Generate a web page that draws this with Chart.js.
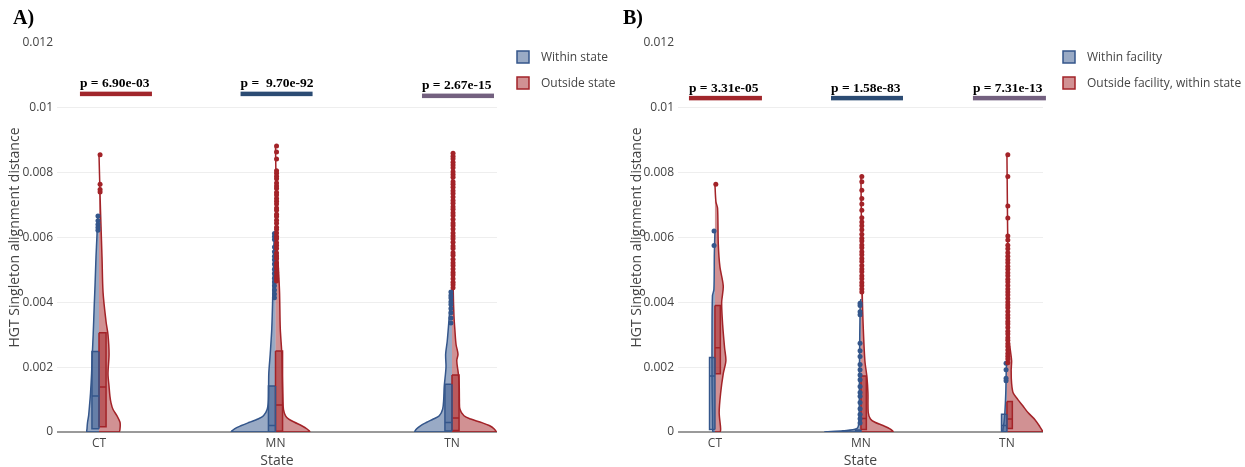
<!DOCTYPE html>
<html>
<head>
<meta charset="utf-8">
<script src="https://cdn.jsdelivr.net/npm/chart.js@4.4.1/dist/chart.umd.min.js"></script>
<style>
  body { margin: 0; background: #fff; width: 1245px; height: 467px; position: relative; overflow: hidden; }
  .panel { position: absolute; top: 0; height: 467px; }
  .tag { position: absolute; top: 7px; font: bold 20px "Liberation Serif", serif; line-height: 20px; color: #000; }
</style>
</head>
<body>
<div class="panel" style="left:0;width:622px"><canvas id="chartA"></canvas></div>
<div class="panel" style="left:622px;width:623px"><canvas id="chartB"></canvas></div>
<div class="tag" style="left:13px">A)</div>
<div class="tag" style="left:623px">B)</div>
<script>
const categories = ['CT', 'MN', 'TN'];
const yTicks = [0, 0.002, 0.004, 0.006, 0.008, 0.01, 0.012];

// ---- Panel A: within state (left half) / outside state (right half)
// violin outlines: distance levels and half widths (category units)
const aCtWithinY = [0, 0.0001, 0.0003, 0.0005, 0.0008, 0.0012, 0.0018, 0.0024, 0.003, 0.0039, 0.0046, 0.0054, 0.006, 0.0066, 0.0067];
const aCtWithinW = [0.068, 0.068, 0.065, 0.059, 0.054, 0.048, 0.042, 0.038, 0.033, 0.027, 0.022, 0.017, 0.012, 0.007, 0];
const aCtOutsideY = [0, 0.0001, 0.0003, 0.0005, 0.0007, 0.0009, 0.0011, 0.0014, 0.0018, 0.0024, 0.003, 0.0034, 0.0043, 0.0054, 0.0064, 0.0073, 0.00855];
const aCtOutsideW = [0.113, 0.119, 0.119, 0.102, 0.079, 0.068, 0.062, 0.057, 0.051, 0.057, 0.051, 0.040, 0.023, 0.017, 0.011, 0.006, 0];
const aMnWithinY = [0, 0.0001, 0.0002, 0.0003, 0.0004, 0.0005, 0.0007, 0.001, 0.0018, 0.0024, 0.0032, 0.0043, 0.0052, 0.0059, 0.0062];
const aMnWithinW = [0.249, 0.232, 0.193, 0.147, 0.1, 0.068, 0.047, 0.04, 0.038, 0.03, 0.021, 0.015, 0.011, 0.008, 0];
const aMnOutsideY = [0, 0.0001, 0.0002, 0.0003, 0.0004, 0.0005, 0.0007, 0.001, 0.0018, 0.0024, 0.0032, 0.0043, 0.005, 0.0059, 0.007, 0.0088];
const aMnOutsideW = [0.193, 0.177, 0.146, 0.108, 0.075, 0.057, 0.045, 0.042, 0.038, 0.036, 0.027, 0.023, 0.017, 0.007, 0.005, 0];
const aTnWithinY = [0, 0.0001, 0.0002, 0.0003, 0.0004, 0.0005, 0.0007, 0.001, 0.0014, 0.002, 0.0024, 0.0028, 0.0036, 0.0042, 0.0044];
const aTnWithinW = [0.21, 0.2, 0.177, 0.143, 0.106, 0.072, 0.053, 0.047, 0.044, 0.034, 0.036, 0.027, 0.015, 0.007, 0];
const aTnOutsideY = [0, 0.0001, 0.0002, 0.0003, 0.0004, 0.0005, 0.0007, 0.001, 0.0014, 0.0018, 0.0022, 0.0024, 0.0027, 0.0031, 0.0036, 0.0044, 0.0086];
const aTnOutsideW = [0.249, 0.238, 0.211, 0.163, 0.106, 0.068, 0.045, 0.042, 0.041, 0.036, 0.027, 0.034, 0.023, 0.017, 0.011, 0.007, 0];
// boxes: [q1, median, q3] per state
const aWithinBoxes = [[0.0001, 0.00111, 0.00248], [0.00001, 0.0002, 0.00142], [0.00003, 0.00029, 0.00147]];
const aOutsideBoxes = [[0.00016, 0.00139, 0.00306], [0.00002, 0.00083, 0.0025], [0.00005, 0.00043, 0.00176]];
// outliers
const aCtWithinPts = [0.00666, 0.00652, 0.0064, 0.00631, 0.00622];
const aCtOutsidePts = [0.00855, 0.00764, 0.00748, 0.0074];
const aMnWithinPts = [0.00612, 0.00603, 0.00594, 0.00571, 0.00556, 0.00542, 0.00531, 0.00518, 0.00502, 0.00489, 0.00474, 0.00463, 0.00451, 0.00438, 0.00426, 0.00414];
const aMnOutsidePts = [0.00882, 0.00864, 0.00842, 0.00806, 0.00798, 0.00789, 0.00781, 0.00768, 0.00759, 0.00751, 0.00739, 0.00731, 0.0072, 0.00712, 0.00703, 0.00691, 0.00684, 0.00672, 0.00665, 0.00653, 0.00644, 0.00632, 0.00625, 0.00614, 0.00603, 0.00596, 0.00584, 0.00575, 0.00566, 0.00552, 0.00543, 0.00535, 0.00521, 0.00512, 0.00504, 0.00493, 0.00482, 0.00474, 0.00466];
const aTnWithinPts = [0.00432, 0.00421, 0.00413, 0.00402, 0.00393, 0.00381, 0.00368, 0.00352, 0.00336];
const aTnOutsidePts = [0.0086, 0.00851, 0.00843, 0.00832, 0.00824, 0.00815, 0.00803, 0.00794, 0.00786, 0.00772, 0.00764, 0.00755, 0.00744, 0.00736, 0.00725, 0.00714, 0.00706, 0.00695, 0.00687, 0.00676, 0.00668, 0.00656, 0.00645, 0.00637, 0.00626, 0.00614, 0.00605, 0.00596, 0.00585, 0.00574, 0.00566, 0.00553, 0.00545, 0.00533, 0.00522, 0.00514, 0.00503, 0.00492, 0.00484, 0.00473, 0.00462, 0.00454, 0.00445];
const aPLabels = ['p = 6.90e-03', 'p =  9.70e-92', 'p = 2.67e-15'];

// ---- Panel B: within facility / outside facility, within state
const bCtWithinY = [0, 0.0005, 0.0015, 0.003, 0.0042, 0.0044, 0.0055, 0.0062];
const bCtWithinW = [0.014, 0.017, 0.02, 0.02, 0.017, 0.007, 0.004, 0];
const bCtOutsideY = [0, 0.0001, 0.0006, 0.0012, 0.0018, 0.0022, 0.0026, 0.0033, 0.004, 0.0045, 0.0051, 0.0058, 0.0069, 0.0071, 0.00764];
const bCtOutsideW = [0.034, 0.039, 0.029, 0.039, 0.057, 0.075, 0.066, 0.053, 0.046, 0.057, 0.034, 0.023, 0.018, 0.007, 0];
const bMnWithinY = [0, 0.00004, 0.0001, 0.0003, 0.002, 0.004, 0.0041];
const bMnWithinW = [0.247, 0.123, 0.03, 0.014, 0.01, 0.005, 0];
const bMnOutsideY = [0, 0.0001, 0.0002, 0.0003, 0.0004, 0.0006, 0.0012, 0.0017, 0.0022, 0.0032, 0.0043, 0.0079];
const bMnOutsideW = [0.219, 0.199, 0.151, 0.096, 0.065, 0.05, 0.048, 0.041, 0.027, 0.016, 0.009, 0];
const bTnWithinY = [0, 0.0003, 0.0006, 0.0012, 0.002, 0.0022];
const bTnWithinW = [0.027, 0.02, 0.014, 0.008, 0.004, 0];
const bTnOutsideY = [0, 0.00016, 0.00038, 0.0006, 0.0008, 0.001, 0.0012, 0.0015, 0.0019, 0.0022, 0.0025, 0.0028, 0.004, 0.00855];
const bTnOutsideW = [0.247, 0.226, 0.192, 0.144, 0.11, 0.075, 0.043, 0.032, 0.029, 0.032, 0.024, 0.016, 0.01, 0];
const bWithinBoxes = [[0.00008, 0.00173, 0.0023], [0, 0.00002, 0.00006], [0.00001, 0.0002, 0.00055]];
const bOutsideBoxes = [[0.0018, 0.0026, 0.0039], [0.00008, 0.00042, 0.00173], [0.00011, 0.0004, 0.00094]];
const bCtWithinPts = [0.0062, 0.00575];
const bCtOutsidePts = [0.00764];
const bMnWithinPts = [0.00397, 0.0039, 0.00371, 0.00362, 0.00274, 0.00251, 0.00233, 0.00208, 0.00192, 0.00176, 0.00161, 0.0014, 0.00122, 0.0011, 0.00091, 0.00072, 0.00054, 0.00041, 0.00028];
const bMnOutsidePts = [0.00788, 0.00772, 0.00746, 0.0072, 0.00703, 0.00684, 0.00661, 0.00648, 0.00636, 0.00624, 0.0061, 0.00598, 0.00589, 0.00577, 0.00568, 0.00556, 0.00547, 0.00535, 0.00526, 0.00514, 0.00503, 0.00494, 0.00482, 0.00473, 0.00461, 0.00452, 0.00441, 0.00432];
const bTnWithinPts = [0.00212, 0.00192, 0.00166, 0.00158];
const bTnOutsidePts = [0.00855, 0.00788, 0.00697, 0.0066, 0.00605, 0.00592, 0.00576, 0.00565, 0.00553, 0.00542, 0.00531, 0.00522, 0.00511, 0.00502, 0.00491, 0.00482, 0.00471, 0.00463, 0.00452, 0.00441, 0.00432, 0.00423, 0.00412, 0.00401, 0.00392, 0.00383, 0.00372, 0.00361, 0.00352, 0.00341, 0.00333, 0.00322, 0.00311, 0.00302, 0.00291, 0.00283, 0.00272, 0.00264, 0.00253, 0.00242, 0.00234, 0.00225, 0.00214];
const bPLabels = ['p = 3.31e-05', 'p = 1.58e-83', 'p = 7.31e-13'];

const blue = 'rgb(52,86,139)', blueFill = 'rgba(52,86,139,0.5)';
const red = 'rgb(163,35,40)', redFill = 'rgba(163,35,40,0.5)';
const barColors = ['#a1262b', '#2b4b73', '#73607f'];

Chart.defaults.font.family = '"Open Sans", sans-serif';
Chart.defaults.color = '#444';

// one half violin + its box + outliers per state; side -1 = left, 1 = right
function halfSets(groups, side, line, fill, boxWidth) {
  const sets = [];
  groups.forEach((g, i) => {
    const outline = [{x: i, y: g.ys[0]}]
      .concat(g.ys.map((y, k) => ({x: i + side * g.ws[k], y})))
      .concat([{x: i, y: g.ys[g.ys.length - 1]}]);
    sets.push({data: outline, borderColor: line, backgroundColor: fill, borderWidth: 1.5,
      tension: 0.3, pointRadius: 0, fill: {value: i}, order: 3});
    const [q1, med, q3] = g.box;
    const bx = i + side * boxWidth;
    sets.push({data: [{x: i, y: q1}, {x: bx, y: q1}, {x: bx, y: q3}, {x: i, y: q3}],
      borderColor: line, backgroundColor: fill, borderWidth: 1.5, pointRadius: 0, fill: {value: i}, order: 2});
    sets.push({data: [{x: i, y: q3}, {x: i, y: med}, {x: bx, y: med}, {x: i, y: med}, {x: i, y: q1}],
      borderColor: line, borderWidth: 1.5, pointRadius: 0, fill: false, order: 1});
    sets.push({data: g.pts.map(y => ({x: i + side * 0.006, y})), showLine: false,
      pointRadius: 2.5, pointBackgroundColor: line, pointBorderWidth: 0, order: side < 0 ? 0.5 : 0});
  });
  return sets;
}

// p-value bars with text above them
const pBars = {
  id: 'pBars',
  afterDatasetsDraw(chart, args, opts) {
    const {ctx, scales: {x, y}} = chart;
    ctx.save();
    opts.labels.forEach((text, i) => {
      const [from, to] = opts.spans[i];
      const x0 = x.getPixelForValue(i + from), x1 = x.getPixelForValue(i + to);
      const yb = y.getPixelForValue(opts.levels[i]);
      ctx.fillStyle = barColors[i];
      ctx.fillRect(x0, yb - 2.25, x1 - x0, 4.5);
      ctx.fillStyle = '#000';
      ctx.font = 'bold 13.5px "Liberation Serif", serif';
      ctx.textBaseline = 'alphabetic';
      ctx.fillText(text, x0, yb - 6.5);
    });
    ctx.restore();
  }
};

// legend squares to the right of the plot
const sideLegend = {
  id: 'sideLegend',
  afterDraw(chart, args, opts) {
    const {ctx, chartArea} = chart;
    ctx.save();
    opts.items.forEach((item, i) => {
      const bx = chartArea.right + 20, cy = chartArea.top + 14 + i * 26;
      ctx.fillStyle = item.fill;
      ctx.fillRect(bx, cy - 6, 12, 12);
      ctx.strokeStyle = item.line;
      ctx.lineWidth = 1.5;
      ctx.strokeRect(bx, cy - 6, 12, 12);
      ctx.fillStyle = '#444';
      ctx.font = '12px "Open Sans", sans-serif';
      ctx.textBaseline = 'middle';
      ctx.fillText(item.text, bx + 24, cy + 1);
    });
    ctx.restore();
  }
};

function makePanel(id, p) {
  const datasets = halfSets(p.within, -1, blue, blueFill, p.boxWidth)
    .concat(halfSets(p.outside, 1, red, redFill, p.boxWidth));
  return new Chart(document.getElementById(id), {
    type: 'line',
    data: {datasets},
    plugins: [pBars, sideLegend],
    options: {
      indexAxis: 'y',
      responsive: true,
      maintainAspectRatio: false,
      animation: false,
      events: [],
      layout: {padding: {left: 8, top: 43, right: p.padRight, bottom: 0}},
      plugins: {
        legend: {display: false},
        tooltip: {enabled: false},
        pBars: {labels: p.pLabels, spans: p.spans, levels: p.levels},
        sideLegend: {items: [
          {text: p.names[0], line: blue, fill: blueFill},
          {text: p.names[1], line: red, fill: redFill}
        ]}
      },
      scales: {
        x: {
          type: 'linear', min: p.xMin, max: p.xMax,
          afterBuildTicks: s => { s.ticks = categories.map((c, i) => ({value: i})); },
          afterFit: s => { s.height = 35; },
          ticks: {callback: v => categories[v], font: {size: 12}, padding: 4, maxRotation: 0, autoSkip: false},
          grid: {display: false, drawTicks: false},
          border: {display: false},
          title: {display: true, text: 'State', font: {size: 14, lineHeight: 0.8}, padding: 0}
        },
        y: {
          type: 'linear', min: 0, max: 0.012,
          afterBuildTicks: s => { s.ticks = yTicks.map(v => ({value: v})); },
          afterFit: s => { s.width = p.yWidth; },
          ticks: {callback: v => String(+v.toFixed(4)), font: {size: 12}, padding: 4},
          grid: {
            color: c => c.tick.value === 0 ? '#9a9a9a' : (c.tick.value >= 0.012 ? 'rgba(0,0,0,0)' : '#eeeeee'),
            lineWidth: c => c.tick.value === 0 ? 2 : 1,
            drawTicks: false
          },
          border: {display: false},
          title: {display: true, text: 'HGT Singleton alignment distance', font: {size: 14, lineHeight: 1}, padding: 0}
        }
      }
    }
  });
}

makePanel('chartA', {
  within: [
    {ys: aCtWithinY, ws: aCtWithinW, box: aWithinBoxes[0], pts: aCtWithinPts},
    {ys: aMnWithinY, ws: aMnWithinW, box: aWithinBoxes[1], pts: aMnWithinPts},
    {ys: aTnWithinY, ws: aTnWithinW, box: aWithinBoxes[2], pts: aTnWithinPts}
  ],
  outside: [
    {ys: aCtOutsideY, ws: aCtOutsideW, box: aOutsideBoxes[0], pts: aCtOutsidePts},
    {ys: aMnOutsideY, ws: aMnOutsideW, box: aOutsideBoxes[1], pts: aMnOutsidePts},
    {ys: aTnOutsideY, ws: aTnOutsideW, box: aOutsideBoxes[2], pts: aTnOutsidePts}
  ],
  names: ['Within state', 'Outside state'],
  pLabels: aPLabels,
  spans: [[-0.108, 0.30], [-0.198, 0.21], [-0.17, 0.238]],
  levels: [0.01043, 0.01043, 0.01037],
  boxWidth: 0.04, xMin: -0.238, xMax: 2.255, yWidth: 49, padRight: 125
});

makePanel('chartB', {
  within: [
    {ys: bCtWithinY, ws: bCtWithinW, box: bWithinBoxes[0], pts: bCtWithinPts},
    {ys: bMnWithinY, ws: bMnWithinW, box: bWithinBoxes[1], pts: bMnWithinPts},
    {ys: bTnWithinY, ws: bTnWithinW, box: bWithinBoxes[2], pts: bTnWithinPts}
  ],
  outside: [
    {ys: bCtOutsideY, ws: bCtOutsideW, box: bOutsideBoxes[0], pts: bCtOutsidePts},
    {ys: bMnOutsideY, ws: bMnOutsideW, box: bOutsideBoxes[1], pts: bMnOutsidePts},
    {ys: bTnOutsideY, ws: bTnOutsideW, box: bOutsideBoxes[2], pts: bTnOutsidePts}
  ],
  names: ['Within facility', 'Outside facility, within state'],
  pLabels: bPLabels,
  spans: [[-0.178, 0.322], [-0.205, 0.288], [-0.233, 0.267]],
  levels: [0.0103, 0.0103, 0.0103],
  boxWidth: 0.037, xMin: -0.253, xMax: 2.247, yWidth: 48, padRight: 202
});
</script>
</body>
</html>
